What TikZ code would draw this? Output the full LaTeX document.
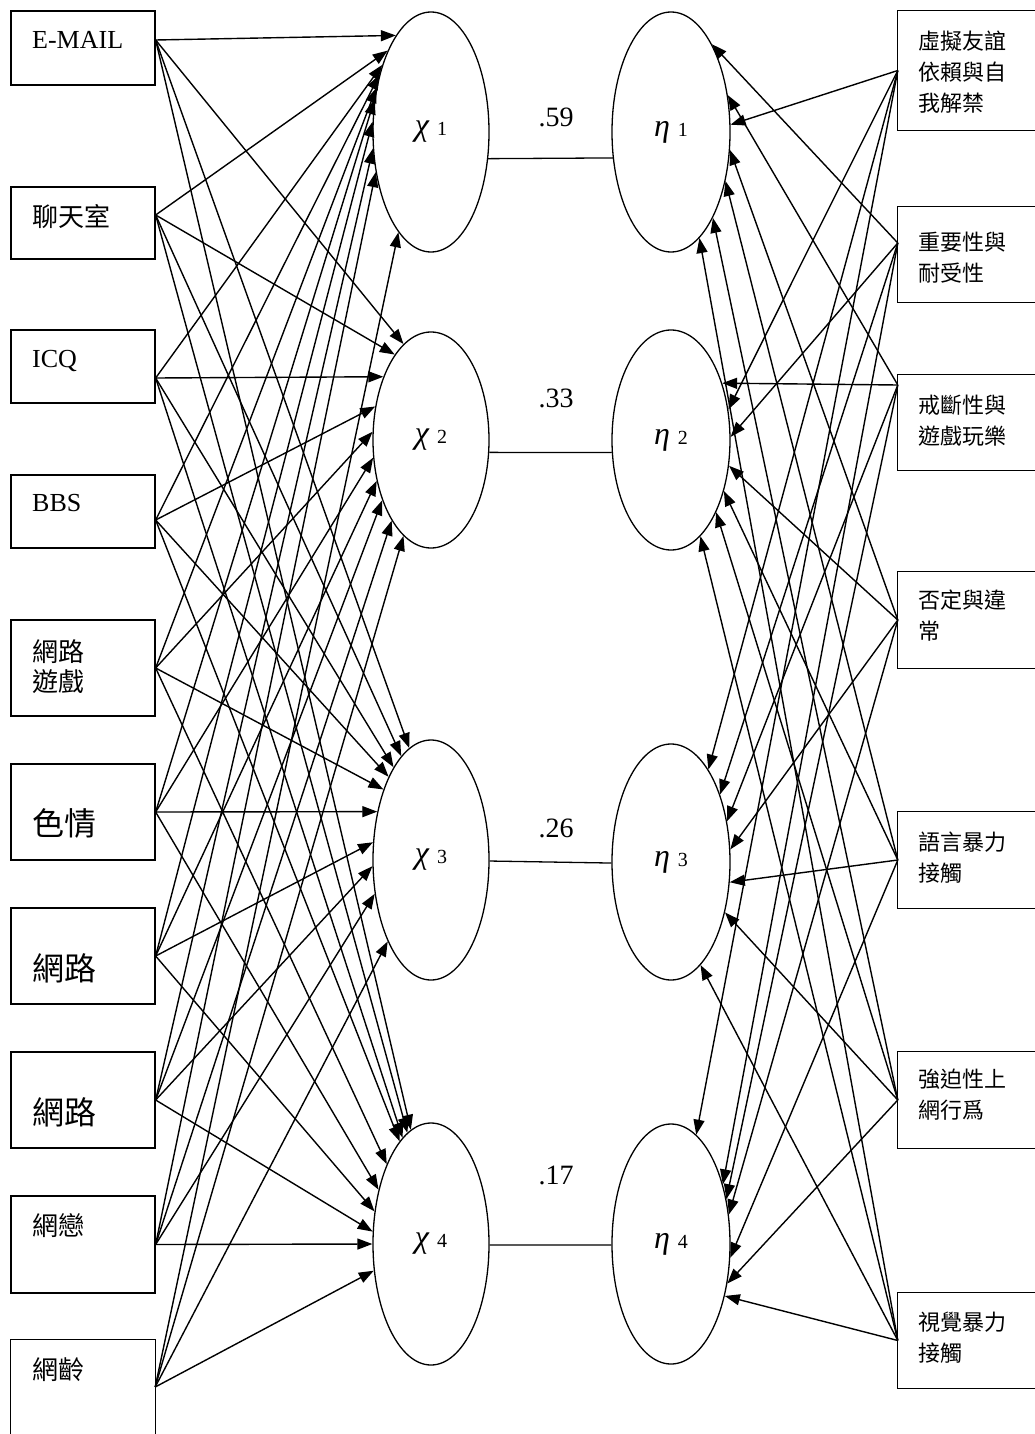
\documentclass[tikz,border=0pt]{standalone}
\usepackage{fontspec}
\setmainfont{Liberation Serif}
\newfontfamily\cjk{Noto Sans CJK TC}
\usetikzlibrary{arrows.meta,shapes.geometric}

\tikzset{
  box/.style={draw, line width=1.3pt, inner sep=0pt, minimum width=144pt},
  openbox/.style={inner sep=0pt, minimum width=137pt},
  edge3/.style={line width=1.3pt},
  lat/.style={ellipse, draw, line width=1.3pt, inner sep=0pt, minimum width=116pt,
              font=\fontsize{32}{34}\selectfont},
  arr/.style={line width=1.4pt, -{Triangle[length=15pt,width=11pt]}},
  link/.style={line width=1.3pt},
  lbl/.style={anchor=west, inner sep=0pt, align=left},
  latin/.style={font=\fontsize{26}{30}\selectfont},
  hanzi/.style={font=\cjk\fontsize{26}{30}\selectfont},
  hanzibig/.style={font=\cjk\fontsize{32}{36}\selectfont},
  hanzir/.style={font=\cjk\fontsize{22}{31}\selectfont},
  coef/.style={inner sep=0pt, font=\fontsize{28}{30}\selectfont},
}
% Greek letter in italic followed by a smaller index
\newcommand{\latsub}[2]{{\itshape #1}\hspace{8pt}{\fontsize{20}{20}\selectfont #2}}

\begin{document}
\begin{tikzpicture}[x=1pt,y=-1pt]
\useasboundingbox (0,0) rectangle (1035,1434);
\fill[white] (0,0) rectangle (1035,1434);

% ---- observed indicators (left column)
\node[box, minimum height=74pt] (b1) at (83,48) {};
\node[box, minimum height=72pt] (b2) at (83,223) {};
\node[box, minimum height=73pt] (b3) at (83,366.5) {};
\node[box, minimum height=73pt] (b4) at (83,511.5) {};
\node[box, minimum height=96pt] (b5) at (83,668) {};
\node[box, minimum height=96pt] (b6) at (83,812) {};
\node[box, minimum height=96pt] (b7) at (83,956) {};
\node[box, minimum height=96pt] (b8) at (83,1100) {};
\node[box, minimum height=97pt] (b9) at (83,1244.5) {};
\node[inner sep=0pt, minimum width=144pt, minimum height=94pt] (b10) at (83,1387) {};
\draw[edge3] (b10.south west) -- (b10.north west) -- (b10.north east) -- (b10.south east);

\node[lbl, latin] (t1) at (32,40) {E-MAIL};
\node[lbl, hanzi] (t2) at (32,217) {聊天室};
\node[lbl, latin] (t3) at (32,361) {ICQ};
\node[lbl, latin] (t4) at (32,503) {BBS};
\node[lbl, hanzi] (t5) at (32,667) {網路\\遊戲};
\node[lbl, hanzibig] (t6) at (32,823) {色情};
\node[lbl, hanzibig] (t7) at (32,968) {網路};
\node[lbl, hanzibig] (t8) at (32,1112) {網路};
\node[lbl, hanzi] (t9) at (32,1226) {網戀};
\node[lbl, hanzi] (t10) at (32,1370) {網齡};

% ---- observed indicators (right column, open on the right)
\node[openbox, minimum height=119pt] (q1) at (966.5,70.5) {};
\node[openbox, minimum height=95pt] (q2) at (966.5,254.5) {};
\node[openbox, minimum height=95pt] (q3) at (966.5,422.5) {};
\node[openbox, minimum height=96pt] (q4) at (966.5,620) {};
\node[openbox, minimum height=96pt] (q5) at (966.5,860) {};
\node[openbox, minimum height=96pt] (q6) at (966.5,1100) {};
\node[openbox, minimum height=95pt] (q7) at (966.5,1340.5) {};
\foreach \n in {q1,q2,q3,q4,q5,q6,q7}
  \draw[edge3] (\n.north east) -- (\n.north west) -- (\n.south west) -- (\n.south east);

\node[lbl, hanzir] (u1) at (918,72) {虛擬友誼\\依賴與自\\我解禁};
\node[lbl, hanzir] (u2) at (918,258) {重要性與\\耐受性};
\node[lbl, hanzir] (u3) at (918,421) {戒斷性與\\遊戲玩樂};
\node[lbl, hanzir] (u4) at (918,616) {否定與違\\常};
\node[lbl, hanzir] (u5) at (918,858) {語言暴力\\接觸};
\node[lbl, hanzir] (u6) at (918,1095) {強迫性上\\網行爲};
\node[lbl, hanzir] (u7) at (918,1338) {視覺暴力\\接觸};

% ---- latent variables
\node[lat, minimum height=240pt] (x1) at (431,132) {\latsub{χ}{1}};
\node[lat, minimum height=216pt] (x2) at (431,440) {\latsub{χ}{2}};
\node[lat, minimum height=240pt] (x3) at (431,860) {\latsub{χ}{3}};
\node[lat, minimum height=242pt] (x4) at (431,1244) {\latsub{χ}{4}};
\node[lat, minimum height=240pt, minimum width=118pt] (e1) at (671,132) {\latsub{η}{1}};
\node[lat, minimum height=220pt, minimum width=118pt] (e2) at (671,440) {\latsub{η}{2}};
\node[lat, minimum height=236pt, minimum width=118pt] (e3) at (671,862) {\latsub{η}{3}};
\node[lat, minimum height=240pt, minimum width=118pt] (e4) at (671,1244) {\latsub{η}{4}};

% ---- canonical correlations
\node[coef] (c1) at (556,117) {.59};
\node[coef] (c2) at (556,398) {.33};
\node[coef] (c3) at (556,828) {.26};
\node[coef] (c4) at (556,1175) {.17};

\foreach \i/\d/\r/\s in {1/26/120/120, 2/12/108/110, 3/1/120/118, 4/1/121/120}{
  \pgfmathtruncatemacro\aa{round(atan2(-1*(\d), 58*sqrt(1-(\d/\r)^2)))}
  \pgfmathtruncatemacro\bb{round(atan2(-1*(\d), -59*sqrt(1-(\d/\s)^2)))}
  \draw[link] (x\i.\aa) -- (e\i.\bb);
}

% ---- start points of the paths
\coordinate (p1) at ([yshift=8pt]b1.east);
\coordinate (p2) at ([yshift=8pt]b2.east);
\coordinate (p3) at ([yshift=-11.5pt]b3.east);
\coordinate (p4) at ([yshift=-8.5pt]b4.east);
\coordinate (p5) at (b5.east);
\coordinate (p6) at (b6.east);
\coordinate (p7) at (b7.east);
\coordinate (p8) at (b8.east);
\coordinate (p9) at (b9.east);
\coordinate (p10) at (b10.east);
\coordinate (s1) at (q1.west);
\coordinate (s2) at ([yshift=11.5pt]q2.west);
\coordinate (s3) at ([yshift=37.5pt]q3.west);
\coordinate (s4) at (q4.west);
\coordinate (s5) at (q5.west);
\coordinate (s6) at (q6.west);
\coordinate (s7) at (q7.west);

% ---- left indicators to chi (end height relative to centre / vertical radius)
\foreach \s/\t/\d/\r in {
  p1/x1/-95/120, p1/x2/-95/108, p1/x3/-112/120, p1/x4/-114/121,
  p2/x1/-80/120, p2/x2/-84/108, p2/x3/-103/120, p2/x4/-110/121,
  p3/x1/-67/120, p3/x2/-62/108, p3/x3/-92/120,  p3/x4/-106/121,
  p4/x1/-57/120, p4/x2/-33/108, p4/x3/-82/120,  p4/x4/-102/121,
  p5/x1/-44/120, p5/x2/-8/108,  p5/x3/-70/120,  p5/x4/-79/121,
  p6/x1/-32/120, p6/x2/18/108,  p6/x3/-48/120,  p6/x4/-54/121,
  p7/x1/-10/120, p7/x2/40/108,  p7/x3/-18/120,  p7/x4/-32/121,
  p8/x1/16/120,  p8/x2/60/108,  p8/x3/6/120,    p8/x4/-12/121,
  p9/x1/40/120,  p9/x2/80/108,  p9/x3/33/120,   p9/x4/0/121,
  p10/x1/100/120, p10/x2/95/108, p10/x3/80/120, p10/x4/26/121}{
  \pgfmathtruncatemacro\ang{round(atan2(-1*(\d), -58*sqrt(1-(\d/\r)^2)))}
  \draw[arr] (\s) -- (\t.\ang);
}

% ---- right indicators to eta
\foreach \s/\t/\d/\r in {
  s1/e1/-7/120,  s1/e2/-30/110, s1/e3/-92/118, s1/e4/-109/120,
  s2/e1/-87/120, s2/e2/-3/110,  s2/e3/-67/118, s2/e4/-59/120,
  s3/e1/-37/120, s3/e2/-57/110, s3/e3/-40/118, s3/e4/-44/120,
  s4/e1/18/120,  s4/e2/25/110,  s4/e3/-12/118, s4/e4/-29/120,
  s5/e1/48/120,  s5/e2/50/110,  s5/e3/20/118,  s5/e4/14/120,
  s6/e1/86/120,  s6/e2/72/110,  s6/e3/50/118,  s6/e4/39/120,
  s7/e1/106/120, s7/e2/95/110,  s7/e3/103/118, s7/e4/52/120}{
  \pgfmathtruncatemacro\ang{round(atan2(-1*(\d), 59*sqrt(1-(\d/\r)^2)))}
  \draw[arr] (\s) -- (\t.\ang);
}
\end{tikzpicture}
\end{document}
